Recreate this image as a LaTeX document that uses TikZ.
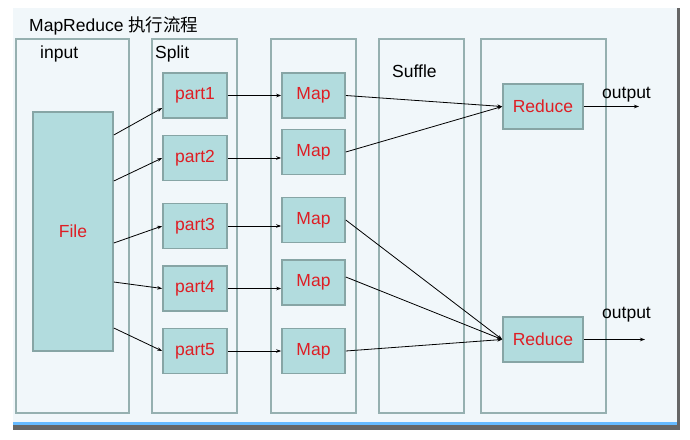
\documentclass[tikz,border=0pt]{standalone}
\usepackage{fontspec}
\setmainfont{Liberation Sans}
\newfontfamily\cjkfont{Noto Sans CJK SC}
\usetikzlibrary{arrows.meta}
\definecolor{pagebg}{RGB}{241,247,250}
\definecolor{colline}{RGB}{150,176,176}
\definecolor{boxfill}{RGB}{178,220,222}
\definecolor{boxline}{RGB}{135,165,165}
\definecolor{boxtext}{RGB}{222,30,36}
\begin{document}
\begin{tikzpicture}[
		x=1pt, y=-1pt,
		every node/.style={inner sep=0pt, font=\fontsize{17.5}{20}\selectfont},
		column/.style={draw=colline, line width=1.6pt, minimum height=374pt},
		block/.style={draw=boxline, fill=boxfill, line width=1.6pt, text=boxtext, minimum width=64pt, minimum height=45pt},
		label/.style={anchor=west},
		flow/.style={-{Stealth[length=5pt, width=3.5pt]}, line width=0.8pt}
	]
	\useasboundingbox (0,0) rectangle (690,439);
	% screen background
	\fill[pagebg] (13,8) rectangle (678,425);
	\fill[blue!45!cyan!60] (13,422) rectangle (678,425);
	\fill[black!60] (13,425) rectangle (680,430);
	\fill[black!60] (677,8) rectangle (680,430);

	\node[label] (title) at (29,26) {MapReduce {\cjkfont 执行流程}};

	% columns
	\node[column, minimum width=113pt] (colinput) at (72.5,226) {};
	\node[column, minimum width=85pt] (colsplit) at (194.5,226) {};
	\node[column, minimum width=85pt] (colmap) at (313.5,226) {};
	\node[column, minimum width=85pt] (colsuffle) at (421.5,226) {};
	\node[column, minimum width=125pt] (colreduce) at (543.5,226) {};

	\node[label] (lblinput) at (40,54) {input};
	\node[label] (lblsplit) at (155,54) {Split};
	\node[label] (lblsuffle) at (392,71) {Suffle};

	% boxes
	\node[block, minimum width=80pt, minimum height=239pt] (file) at (73,231.5) {File};

	\node[block] (part1) at (195,95.5) {part1};
	\node[block] (part2) at (195,158) {part2};
	\node[block] (part3) at (195,226) {part3};
	\node[block] (part4) at (195,288.5) {part4};
	\node[block] (part5) at (195,351) {part5};

	\node[block, minimum width=63pt] (map1) at (313.5,95.5) {Map};
	\node[block, minimum width=63pt] (map2) at (313.5,152) {Map};
	\node[block, minimum width=63pt] (map3) at (313.5,220) {Map};
	\node[block, minimum width=63pt] (map4) at (313.5,282.5) {Map};
	\node[block, minimum width=63pt] (map5) at (313.5,351) {Map};

	\node[block, minimum width=80pt] (reduce1) at (543,106.5) {Reduce};
	\node[block, minimum width=80pt] (reduce2) at (543,339.5) {Reduce};

	\node[label] (out1) at (602,95) {output};
	\node[label] (out2) at (602,315) {output};
	\coordinate (end1) at (639,106.5);
	\coordinate (end2) at (645,339.5);

	% connectors
	\draw[flow] (file.east |- 0,135) -- (part1.west |- 0,108);
	\draw[flow] (file.east |- 0,181) -- (part2.west);
	\draw[flow] (file.east |- 0,243) -- (part3.west);
	\draw[flow] (file.east |- 0,282) -- (part4.west);
	\draw[flow] (file.east |- 0,328) -- (part5.west);

	\draw[flow] (part1.east) -- (map1.west);
	\draw[flow] (part2.east) -- (map2.west |- part2.east);
	\draw[flow] (part3.east) -- (map3.west |- part3.east);
	\draw[flow] (part4.east) -- (map4.west |- part4.east);
	\draw[flow] (part5.east) -- (map5.west);

	\draw[flow] (map1.east) -- (reduce1.west);
	\draw[flow] (map2.east) -- (reduce1.west);
	\draw[flow] (map3.east) -- (reduce2.west);
	\draw[flow] (map4.east |- 0,277) -- (reduce2.west);
	\draw[flow] (map5.east) -- (reduce2.west);

	\draw[flow] (reduce1.east) -- (end1);
	\draw[flow] (reduce2.east) -- (end2);
\end{tikzpicture}
\end{document}
